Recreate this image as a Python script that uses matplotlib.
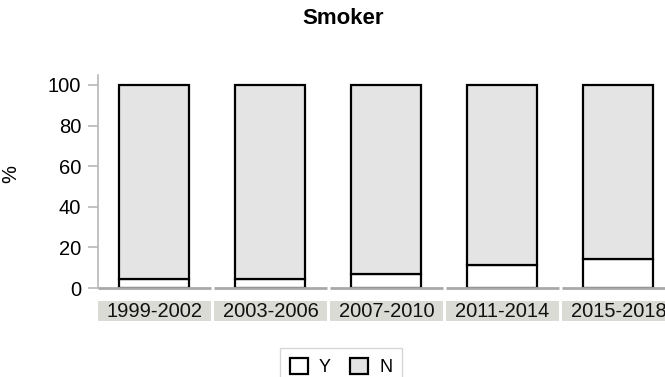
import matplotlib
matplotlib.use('Agg')
import matplotlib.pyplot as plt
from matplotlib.patches import Rectangle
import matplotlib.transforms as mtransforms

plt.rcParams['font.family'] = ['Liberation Sans', 'DejaVu Sans']

# Data
periods = ['1999-2002', '2003-2006', '2007-2010', '2011-2014', '2015-2018']
yes_pct = [4.3, 4.5, 6.7, 11.2, 14.3]
no_pct = [100 - v for v in yes_pct]
yticks = [0, 20, 40, 60, 80, 100]

# Layout (pixels on a 665x377 canvas)
W, H = 665, 377
panel_w, gap = 113, 3
step = panel_w + gap
bar_w = 70
axis_px = 5 * step - gap

fig = plt.figure(figsize=(W / 100, H / 100), dpi=100)
ax = fig.add_axes([98 / W, 1 - 288 / H, axis_px / W, 213 / H])
ax.set_xlim(0, axis_px)
ax.set_ylim(0, 104.9)

centers = [i * step + panel_w / 2 for i in range(len(periods))]

ax.bar(centers, yes_pct, width=bar_w, color='white', edgecolor='black',
       linewidth=1.6, label='Y', zorder=3)
ax.bar(centers, no_pct, width=bar_w, bottom=yes_pct, color='#e4e4e4',
       edgecolor='black', linewidth=1.6, label='N', zorder=3)

# baseline per panel
for i in range(len(periods)):
    ax.plot([i * step, i * step + panel_w], [0, 0], color='#a8a8a8',
            lw=2, solid_capstyle='butt', zorder=4, clip_on=False)

# category strips under the panels
trans = mtransforms.blended_transform_factory(ax.transData, ax.transAxes)
for i, p in enumerate(periods):
    ax.add_patch(Rectangle((i * step, -0.155), panel_w, 0.094,
                           transform=trans, facecolor='#dadbd4',
                           edgecolor='none', clip_on=False))
    ax.text(i * step + panel_w / 2, -0.108, p, transform=trans,
            ha='center', va='center', fontsize=14.5, color='#111111')

for s in ['top', 'right', 'bottom']:
    ax.spines[s].set_visible(False)
ax.spines['left'].set_color('#b8b8b8')
ax.spines['left'].set_linewidth(1.2)
ax.set_xticks([])
ax.set_yticks(yticks)
ax.tick_params(axis='y', length=7, width=1.2, color='#b8b8b8',
               labelsize=14.5, pad=5)
ax.set_ylabel('%', fontsize=14.5)
ax.yaxis.set_label_coords((20 - 98) / axis_px, (288 - 174) / 213)

fig.text(343 / W, 1 - 18 / H, 'Smoker', ha='center', va='center',
         fontsize=16, fontweight='bold')

leg = fig.legend(loc='upper center', bbox_to_anchor=(341 / W, 1 - 348 / H),
                 ncol=2, frameon=True, fancybox=False, fontsize=13,
                 handlelength=1.0, handleheight=1.0, handletextpad=0.6,
                 columnspacing=1.1, borderpad=0.55, borderaxespad=0,
                 edgecolor='#cccccc')
leg.get_frame().set_linewidth(1.0)
leg.get_frame().set_boxstyle('square', pad=0.0)

fig.savefig('out.png', dpi=100)
